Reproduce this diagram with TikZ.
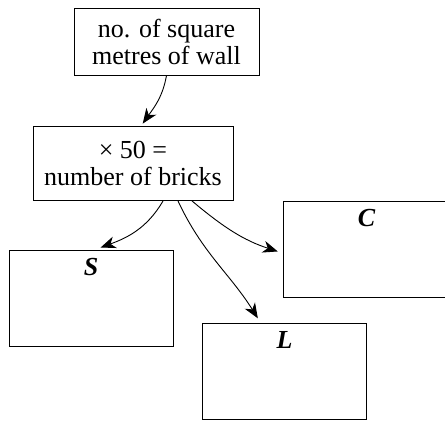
\documentclass[tikz,border=0pt]{standalone}
\usepackage{fontspec}
\setmainfont{Liberation Serif}
\usetikzlibrary{positioning, calc, arrows.meta}

\begin{document}
\begin{tikzpicture}[x=1pt, y=1pt,
        box/.style={draw, line width=0.9pt, inner sep=0pt, align=center},
        arr/.style={line width=0.9pt, -{Stealth[length=15pt, width=12pt, inset=4.5pt]}},
        lettera/.style={anchor=north, inner sep=0pt, font=\bfseries\itshape}]
        \useasboundingbox (0,0) rectangle (445,-421);
        \fontsize{26}{27}\selectfont
        %riquadri di testo
        \node[box, minimum width=185, minimum height=67] (wall) at (166.5,-41.5) {no. of square\\metres of wall};
        \node[box, minimum width=200, minimum height=74] (bricks) at (133,-163.5) {× 50 =\\number of bricks};
        %riquadri vuoti
        \node[box, minimum width=164, minimum height=96] (sbox) at (91,-298) {};
        \node[box, minimum width=167, minimum height=96] (cbox) at (366.5,-249) {};
        \node[box, minimum width=164, minimum height=96] (lbox) at (284.5,-371) {};
        %lettere
        \node[lettera, below=9pt of sbox.north] (slab) {S};
        \node[lettera, below=9pt of cbox.north] (clab) {C};
        \node[lettera, below=9pt of lbox.north] (llab) {L};

        %frecce
        \draw[arr, shorten >=3pt] (wall.south) to[out=-100, in=55] ([xshift=8]bricks.north);
        \draw[arr, shorten >=6pt] ([xshift=30]bricks.south) to[out=-120, in=20] ([xshift=4]sbox.north);
        \draw[arr, shorten >=5pt] ([xshift=45]bricks.south) to[out=-65, in=122] ([xshift=-24]lbox.north);
        \draw[arr, shorten >=5pt] ([xshift=59]bricks.south) to[out=-40, in=162] ([yshift=-4]cbox.west);
\end{tikzpicture}
\end{document}
